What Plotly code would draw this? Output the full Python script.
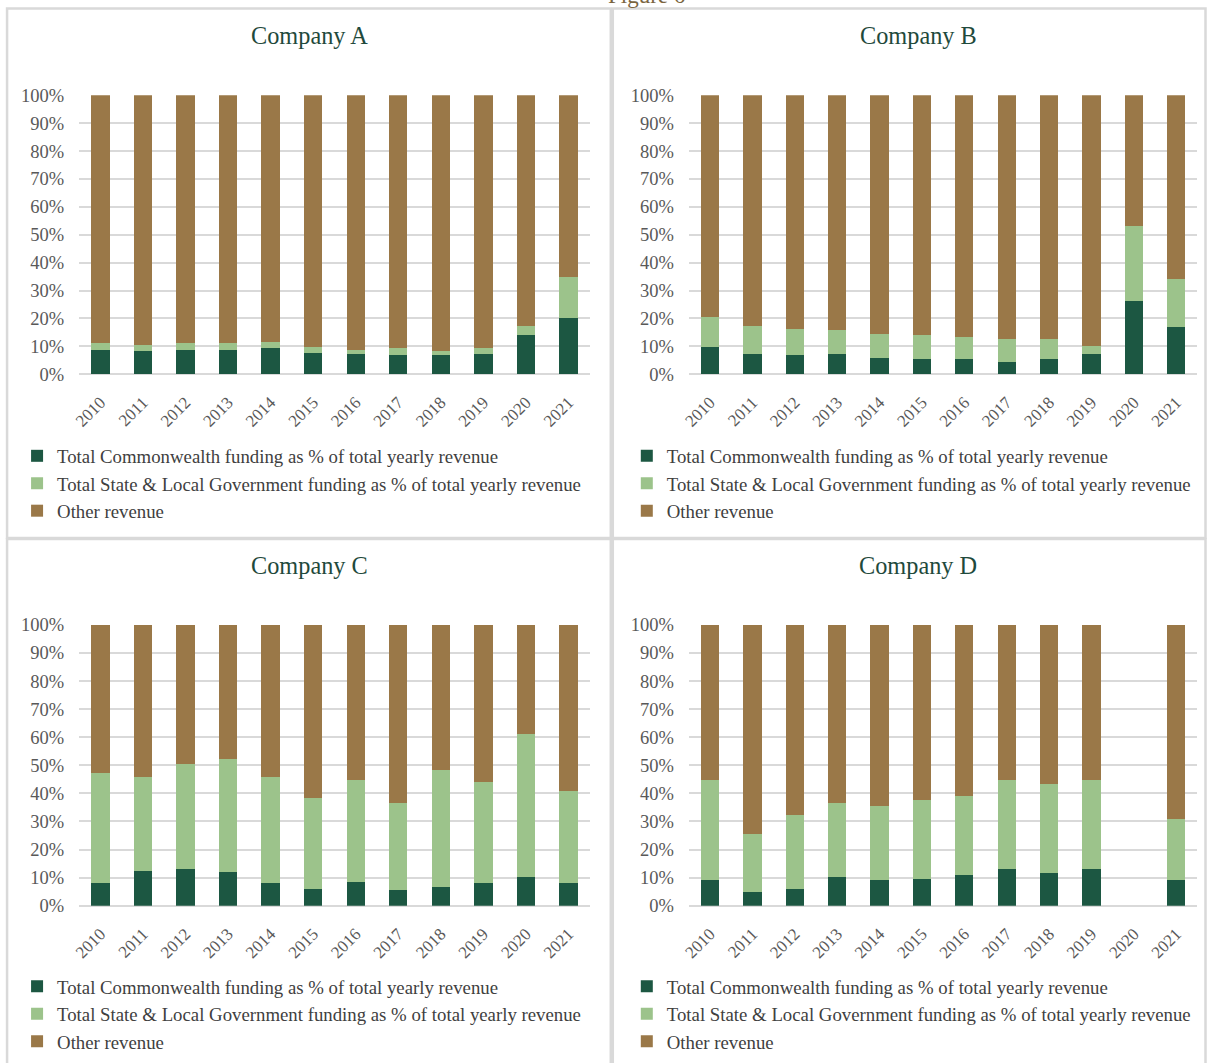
import plotly.graph_objects as go

# Revenue composition per company, % of total yearly revenue
years = ["2010", "2011", "2012", "2013", "2014", "2015",
         "2016", "2017", "2018", "2019", "2020", "2021"]

companies = ["Company A", "Company B", "Company C", "Company D"]

series_names = [
    "Total Commonwealth funding as % of total yearly revenue",
    "Total State & Local Government funding as % of total yearly revenue",
    "Other revenue",
]

commonwealth_a = [8.7, 8.2, 8.7, 8.7, 9.2, 7.7, 7.3, 6.8, 6.8, 7.3, 13.9, 20.1]
state_local_a = [2.3, 2.4, 2.3, 2.3, 2.3, 1.9, 1.5, 2.4, 1.5, 2.2, 3.5, 14.9]
other_a = [89.0, 89.4, 89.0, 89.0, 88.5, 90.4, 91.2, 90.8, 91.7, 90.5, 82.6, 65.0]

commonwealth_b = [9.7, 7.3, 6.8, 7.3, 5.8, 5.4, 5.4, 4.4, 5.4, 7.3, 26.4, 16.8]
state_local_b = [10.9, 10.0, 9.5, 8.6, 8.5, 8.6, 8.1, 8.1, 7.1, 2.8, 26.7, 17.2]
other_b = [79.4, 82.7, 83.7, 84.1, 85.7, 86.0, 86.5, 87.5, 87.5, 89.9, 46.9, 66.0]

commonwealth_c = [8.0, 12.3, 12.9, 11.9, 8.0, 6.1, 8.5, 5.6, 6.5, 8.0, 10.4, 8.0]
state_local_c = [39.1, 33.4, 37.6, 40.5, 37.7, 32.4, 36.3, 30.9, 42.0, 36.2, 50.6, 32.8]
other_c = [52.9, 54.3, 49.5, 47.6, 54.3, 61.5, 55.2, 63.5, 51.5, 55.8, 39.0, 59.2]

commonwealth_d = [9.2, 4.8, 5.8, 10.1, 9.2, 9.6, 11.1, 13.0, 11.6, 13.0, 0.0, 9.2]
state_local_d = [35.4, 20.8, 26.4, 26.4, 26.4, 27.9, 27.9, 31.6, 31.6, 31.6, 0.0, 21.6]
other_d = [55.4, 74.4, 67.8, 63.5, 64.4, 62.5, 61.0, 55.4, 56.8, 55.4, 0.0, 69.2]

panel_data = [
    (commonwealth_a, state_local_a, other_a),
    (commonwealth_b, state_local_b, other_b),
    (commonwealth_c, state_local_c, other_c),
    (commonwealth_d, state_local_d, other_d),
]

colors = ["#1c5742", "#9cc38b", "#9a7848"]

FW, FH = 1207, 1063
SERIF = "Liberation Serif, Times New Roman, serif"

# Layout positions are given in screen pixels of the final view; the page
# body adds an 8px margin and the view is scaled slightly, so convert here.
BODY_MARGIN = 8
SX, SY, OY = 0.993, 0.982, 0.7


def px_x(v):
    page = v / SX
    return (page - BODY_MARGIN) / FW


def px_y(v):
    page = (v - OY) / SY
    return 1 - (page - BODY_MARGIN) / FH


# plot-area boxes: (left, right, top, bottom)
plot_boxes = [
    (80, 590, 94, 373),
    (689, 1197, 94, 373),
    (80, 590, 624, 905),
    (689, 1197, 624, 905),
]
# outer panel frames (bottom row runs off the page)
frames = [
    (8, 611, 7, 537),
    (613, 1205, 7, 537),
    (8, 611, 538, 1072),
    (613, 1205, 538, 1072),
]
title_centers = [(310, 34), (918, 34), (310, 565), (918, 565)]
legend_tops = [(18, 436), (627, 436), (18, 967), (627, 967)]

fig = go.Figure()

for i, (vals, name) in enumerate(zip(panel_data, companies)):
    sfx = "" if i == 0 else str(i + 1)
    legend_id = "legend" + sfx
    for s, (series, sname) in enumerate(zip(vals, series_names)):
        fig.add_trace(go.Bar(
            x=years, y=series, name=sname,
            marker=dict(color=colors[s], line=dict(width=0)),
            xaxis="x" + sfx, yaxis="y" + sfx,
            legend=legend_id,
            hovertemplate="%{x}: %{y:.1f}%<extra>" + name + "</extra>",
        ))

    left, right, top, bottom = plot_boxes[i]
    fig.layout["xaxis" + sfx] = dict(
        domain=[px_x(left), px_x(right)],
        anchor="y" + sfx,
        type="category",
        tickangle=-45,
        tickfont=dict(family=SERIF, size=17, color="#595959"),
        ticklabelstandoff=14,
        showgrid=False,
        showline=False,
        ticks="",
        fixedrange=True,
    )
    fig.layout["yaxis" + sfx] = dict(
        domain=[px_y(bottom), px_y(top)],
        anchor="x" + sfx,
        range=[0, 100],
        dtick=10,
        ticksuffix="%",
        tickfont=dict(family=SERIF, size=18.5, color="#595959"),
        showgrid=True,
        gridcolor="#d9d9d9",
        gridwidth=1.5,
        zeroline=True,
        zerolinecolor="#d9d9d9",
        zerolinewidth=1.5,
        showline=False,
        ticks="",
        ticklabelstandoff=14,
        fixedrange=True,
    )

    lx, ly = legend_tops[i]
    fig.layout[legend_id] = dict(
        x=px_x(lx), y=px_y(ly),
        xanchor="left", yanchor="top",
        orientation="v",
        traceorder="normal",
        font=dict(family=SERIF, size=18.8, color="#404040"),
        bgcolor="rgba(0,0,0,0)",
        itemwidth=30,
        tracegroupgap=0,
    )

    fl, fr, ft, fb = frames[i]
    fig.add_shape(
        type="rect", xref="paper", yref="paper",
        x0=px_x(fl), x1=px_x(fr), y0=px_y(fb), y1=px_y(ft),
        line=dict(color="#d9d9d9", width=2.5), fillcolor="rgba(0,0,0,0)",
        layer="below",
    )

    tx, ty = title_centers[i]
    fig.add_annotation(
        text=name, xref="paper", yref="paper",
        x=px_x(tx), y=px_y(ty), xanchor="center", yanchor="middle",
        showarrow=False,
        font=dict(family=SERIF, size=24.3, color="#1f4a3c"),
    )

# figure caption, running off the top edge of the page
fig.add_annotation(
    text="Figure 6", xref="paper", yref="paper",
    x=px_x(647), y=px_y(8.5), xanchor="center", yanchor="bottom",
    showarrow=False,
    font=dict(family=SERIF, size=23, color="#7a6440"),
)

fig.update_layout(
    width=FW, height=FH,
    margin=dict(l=0, r=0, t=0, b=0),
    paper_bgcolor="white",
    plot_bgcolor="white",
    barmode="stack",
    bargap=0.57,
    showlegend=True,
)

fig.write_html("out.html")
